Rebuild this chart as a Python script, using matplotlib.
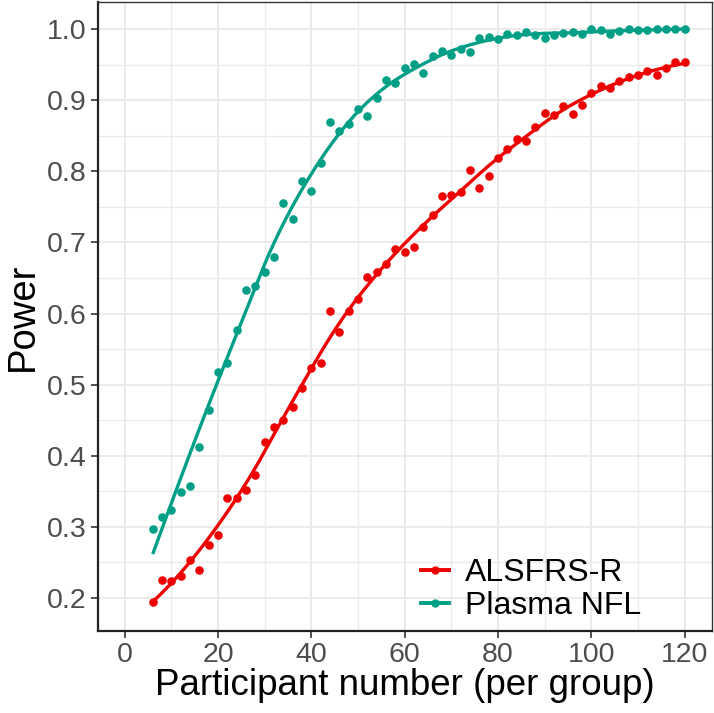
import numpy as np
import matplotlib
matplotlib.use("Agg")
import matplotlib.pyplot as plt
from matplotlib.lines import Line2D
from matplotlib.ticker import MultipleLocator

plt.rcParams['font.family'] = ['Liberation Sans', 'DejaVu Sans']

# ---------------- data ----------------
participants = list(range(6, 121, 2))

alsfrs_power = [0.194, 0.225, 0.224, 0.231, 0.253, 0.239, 0.275, 0.288, 0.341, 0.341,
                0.352, 0.373, 0.419, 0.441, 0.450, 0.469, 0.495, 0.523, 0.530, 0.603,
                0.574, 0.604, 0.620, 0.651, 0.658, 0.670, 0.691, 0.687, 0.694, 0.721,
                0.739, 0.765, 0.766, 0.771, 0.802, 0.776, 0.794, 0.818, 0.831, 0.845,
                0.842, 0.862, 0.882, 0.879, 0.892, 0.880, 0.893, 0.910, 0.920, 0.917,
                0.927, 0.932, 0.935, 0.941, 0.935, 0.945, 0.953, 0.953]

nfl_power = [0.297, 0.314, 0.324, 0.349, 0.358, 0.413, 0.464, 0.518, 0.531, 0.577,
             0.633, 0.638, 0.659, 0.680, 0.756, 0.733, 0.787, 0.772, 0.811, 0.869,
             0.856, 0.867, 0.888, 0.878, 0.903, 0.928, 0.924, 0.945, 0.951, 0.938,
             0.962, 0.969, 0.963, 0.972, 0.968, 0.987, 0.989, 0.986, 0.993, 0.992,
             0.996, 0.992, 0.988, 0.992, 0.994, 0.996, 0.993, 1.000, 0.998, 0.993,
             0.997, 1.000, 0.998, 0.998, 1.000, 1.000, 0.9995, 0.9995]

series_names = ["ALSFRS-R", "Plasma NFL"]
series_colors = ["#EE0000", "#009F86"]

x_ticks = [0, 20, 40, 60, 80, 100, 120]
y_ticks = [0.2, 0.3, 0.4, 0.5, 0.6, 0.7, 0.8, 0.9, 1.0]


def loess(x, y, xs, span=0.45):
    x = np.asarray(x, float)
    y = np.asarray(y, float)
    n = len(x)
    q = int(np.floor(n * span))
    out = []
    for x0 in xs:
        d = np.abs(x - x0)
        h = np.sort(d)[q - 1]
        w = np.clip(1 - (d / h) ** 3, 0, None) ** 3
        X = np.vstack([np.ones_like(x), x - x0, (x - x0) ** 2]).T
        W = np.diag(w)
        beta = np.linalg.lstsq(X.T @ W @ X, X.T @ W @ y, rcond=None)[0]
        out.append(beta[0])
    return np.array(out)


fig = plt.figure(figsize=(7.14, 7.13), dpi=100)
ax = fig.add_axes([0.1368, 0.1154, 0.86, 0.8818])

xs = np.linspace(min(participants), max(participants), 120)
handles = []
for vals, name, col in zip([alsfrs_power, nfl_power], series_names, series_colors):
    ax.scatter(participants, vals, s=38, color=col, zorder=3, linewidths=0)
    ax.plot(xs, loess(participants, vals, xs), color=col, lw=2.4, zorder=4,
            solid_capstyle='butt')
    handles.append(Line2D([], [], color=col, lw=2.8, marker='o', markersize=5))

ax.set_xlim(-5.8, 125.8)
ax.set_ylim(0.154, 1.038)
ax.set_xticks(x_ticks)
ax.set_yticks(y_ticks)
ax.xaxis.set_minor_locator(MultipleLocator(10))
ax.yaxis.set_minor_locator(MultipleLocator(0.05))
ax.set_yticklabels([f"{v:.1f}" for v in y_ticks])

ax.grid(which='major', color='#EBEBEB', lw=1.4, zorder=0)
ax.grid(which='minor', color='#EBEBEB', lw=1.0, zorder=0)
ax.set_axisbelow(True)

for side in ['top', 'right']:
    ax.spines[side].set_color('#333333')
    ax.spines[side].set_linewidth(1.0)
for side in ['left', 'bottom']:
    ax.spines[side].set_color('#222222')
    ax.spines[side].set_linewidth(1.6)

ax.tick_params(which='major', length=5, width=1.2, color='#333333',
               labelsize=20.5, labelcolor='#4D4D4D', pad=3)
ax.tick_params(which='minor', length=0)

ax.set_xlabel("Participant number (per group)", fontsize=26.5, labelpad=0)
ax.set_ylabel("Power", fontsize=27.5, labelpad=4)

ax.legend(handles, series_names, loc='lower right', frameon=False, fontsize=23,
          handlelength=0.87, handletextpad=0.5, labelspacing=0.08,
          bbox_to_anchor=(0.932, -0.03))

fig.savefig("out.png", dpi=100)
